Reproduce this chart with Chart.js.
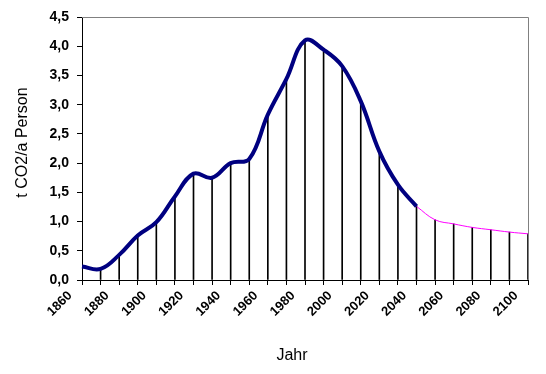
<!DOCTYPE html>
<html>
<head>
<meta charset="utf-8">
<script src="https://cdn.jsdelivr.net/npm/chart.js@4"></script>
<style>
  body { margin: 0; background: #fff; }
  #wrap { width: 546px; height: 374px; }
</style>
</head>
<body>
<div id="wrap"><canvas id="co2Chart" width="546" height="374"></canvas></div>
<script>
// Jahre (Kategorien)
const years = ["1860", "1870", "1880", "1890", "1900", "1910", "1920", "1930", "1940", "1950",
  "1960", "1970", "1980", "1990", "2000", "2010", "2020", "2030", "2040", "2050",
  "2060", "2070", "2080", "2090", "2100"];

// Werte t CO2 pro Person und Jahr
const historic = [0.23, 0.19, 0.43, 0.76, 0.99, 1.43, 1.82, 1.75, 2.0, 2.07,
  2.83, 3.44, 4.10, 3.94, 3.66, 3.06, 2.20, 1.63, 1.26, null,
  null, null, null, null, null];
const outlook = [null, null, null, null, null, null, null, null, null, null,
  null, null, null, null, null, null, null, null, 1.26, 1.03,
  0.96, 0.90, 0.86, 0.82, 0.79];
// Senkrechte Linien bis zur Kurve
const dropLines = [0.23, 0.19, 0.43, 0.76, 0.99, 1.43, 1.82, 1.75, 2.0, 2.07,
  2.83, 3.44, 4.10, 3.94, 3.66, 3.06, 2.20, 1.63, 1.26, 1.03,
  0.96, 0.90, 0.86, 0.82, 0.79];

const yTickLabels = ["0,0", "0,5", "1,0", "1,5", "2,0", "2,5", "3,0", "3,5", "4,0", "4,5"];
const xTitle = "Jahr";
const yTitle = "t CO2/a Person";

const FONT = "'Liberation Sans', Arial, sans-serif";

// Rahmen oben/rechts (grau) + Achsentitel
const frame = {
  id: "frame",
  afterDraw(chart) {
    const a = chart.chartArea;
    const c = chart.ctx;
    c.save();
    c.strokeStyle = "#808080";
    c.lineWidth = 1;
    c.beginPath();
    c.moveTo(a.left, a.top + 0.5);
    c.lineTo(a.right + 0.5, a.top + 0.5);
    c.lineTo(a.right + 0.5, a.bottom);
    c.stroke();

    c.fillStyle = "#000";
    c.font = "16px " + FONT;
    c.textAlign = "center";
    c.textBaseline = "alphabetic";
    c.fillText(xTitle, (a.left + a.right) / 2 - 13, 360);
    c.translate(27, (a.top + a.bottom) / 2 - 6);
    c.rotate(-Math.PI / 2);
    c.fillText(yTitle, 0, 0);
    c.restore();
  }
};

new Chart(document.getElementById("co2Chart"), {
  data: {
    labels: years,
    datasets: [
      {
        type: "line",
        data: historic,
        borderColor: "#000080",
        borderWidth: 4,
        pointRadius: 0,
        tension: 0.4,
        order: 1
      },
      {
        type: "line",
        data: outlook,
        borderColor: "#ff00ff",
        borderWidth: 1,
        pointRadius: 0,
        tension: 0.4,
        order: 2
      },
      {
        type: "bar",
        data: dropLines,
        backgroundColor: "#000",
        barThickness: 1,
        order: 3
      }
    ]
  },
  options: {
    responsive: false,
    devicePixelRatio: 1,
    animation: false,
    layout: { padding: { top: 17, right: 18, left: 0, bottom: 0 } },
    plugins: {
      legend: { display: false },
      tooltip: { enabled: false }
    },
    scales: {
      x: {
        type: "category",
        offset: false,
        grid: { offset: false, drawOnChartArea: false, drawTicks: true, tickLength: 5, color: "#000" },
        border: { color: "#000", width: 1 },
        ticks: {
          autoSkip: false,
          minRotation: 45,
          maxRotation: 45,
          padding: 3,
          labelOffset: -12,
          color: "#000",
          font: { family: FONT, size: 13, weight: "bold" },
          callback: (v, i) => (i % 2 === 0 ? years[i] : "")
        },
        afterFit: (s) => { s.height = 94; }
      },
      y: {
        min: 0,
        max: 4.5,
        ticks: {
          stepSize: 0.5,
          padding: 8,
          color: "#000",
          font: { family: FONT, size: 14, weight: "bold" },
          callback: (v, i) => yTickLabels[i]
        },
        grid: { drawOnChartArea: false, drawTicks: true, tickLength: 5, color: "#000" },
        border: { color: "#000", width: 1 },
        afterFit: (s) => { s.width = 82; }
      }
    }
  },
  plugins: [frame]
});
</script>
</body>
</html>
